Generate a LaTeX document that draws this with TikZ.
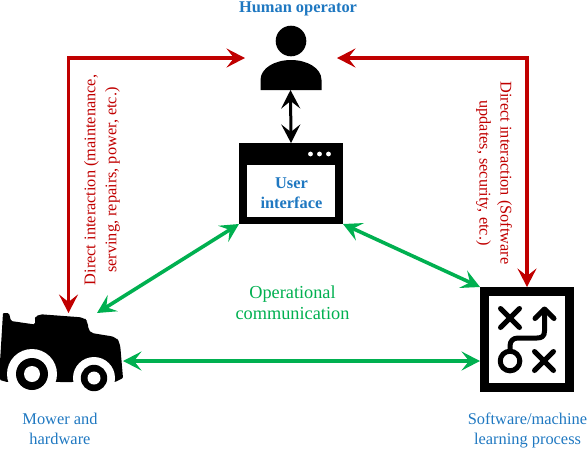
\documentclass[tikz,border=0pt]{standalone}
\usepackage{fontspec}
\setmainfont{Liberation Serif}
\usetikzlibrary{arrows.meta,calc}
\definecolor{myred}{HTML}{C00000}
\definecolor{mygreen}{HTML}{00B050}
\definecolor{myblue}{HTML}{1F78C1}
\tikzset{
  anchorbox/.style={draw=none,fill=none,inner sep=0pt,outer sep=0pt,minimum width=#1},
  redline/.style={draw=myred,line width=3.8pt,line join=miter},
  greenline/.style={draw=mygreen,line width=3.6pt},
  blackline/.style={draw=black,line width=3pt},
  bothtip/.style={{Stealth[length=18.5pt,width=19pt,inset=7.5pt]}-{Stealth[length=18.5pt,width=19pt,inset=7.5pt]}},
  captionb/.style={text=myblue,font=\fontsize{16.4}{20}\selectfont,align=center},
  captionbb/.style={text=myblue,font=\fontsize{16.4}{20}\selectfont\bfseries,align=center},
  redlabel/.style={text=myred,font=\fontsize{16.3}{21}\selectfont,align=center},
  greenlabel/.style={text=mygreen,font=\fontsize{18.3}{21}\selectfont,align=center},
}
\begin{document}
\begin{tikzpicture}[x=1pt,y=-1pt]
\useasboundingbox (0,0) rectangle (588,448);
% anchors for the icons
\node[anchorbox=61pt,minimum height=64pt] (person) at (290.5,58) {};
\node[anchorbox=104pt,minimum height=81pt] (window) at (291,183.5) {};
\node[anchorbox=123pt,minimum height=73pt] (mower) at (61.5,349.5) {};
\node[anchorbox=94pt,minimum height=105pt] (soft) at (527,339.5) {};
\coordinate (elbowL) at (68.5,58);
\coordinate (elbowR) at (527,58);
% person
\fill (291,41) circle[radius=15.3];
\fill (260.5,90) -- (260.5,80) .. controls (260.5,68) and (275,60) .. (291,60)
  .. controls (307,60) and (321.5,68) .. (321.5,80) -- (321.5,90) -- cycle;
% window
\fill (239,143) rectangle (343,224);
\fill[white] (247,164.5) rectangle (335,217);
\fill[white] (310.5,154) circle[radius=2.4] (319.5,154) circle[radius=2.4] (328.5,154) circle[radius=2.4];
% mower
\fill[rounded corners=1.5pt] (3,313) -- (9,313) -- (11,321) -- (35,324.5) -- (35,318)
  [rounded corners=5pt] -- (37,314) -- (84,317.5) -- (88,322) -- (88.5,332.5)
  -- (116,337) -- (120,343)
  [rounded corners=1pt] -- (123,378) -- (115,382) -- (7,382) -- (0,380) -- (0,362) -- cycle;
\fill[white] (32,374) circle[radius=25] (94,378) circle[radius=21];
\fill[white] (5,382) rectangle (60,392) (72,382) rectangle (117,392);
\fill (32,374) circle[radius=16];
\fill[white] (32,374) circle[radius=8];
\fill (94,378) circle[radius=13.2];
\fill[white] (94,378) circle[radius=6.5];
% software icon
\draw[line width=8.6pt] (484.3,291.3) rectangle (569.7,387.7);
\begin{scope}[line width=5pt,line cap=round,line join=round]
\draw (500.5,308.5) -- (519.5,327.5) (519.5,308.5) -- (500.5,327.5);
\draw (534.5,351.5) -- (553.5,370.5) (553.5,351.5) -- (534.5,370.5);
\draw (510,361) circle[radius=9.8];
\draw (510,351) -- (510,346) .. controls (510,341) and (513,338) .. (518,338)
  -- (537,338) .. controls (542,338) and (544.5,336) .. (544.5,331) -- (544.5,310);
\draw (535,318.5) -- (544.5,309) -- (554,318.5);
\end{scope}
% connectors
\draw[redline,bothtip] ([xshift=-15pt]person.west) -- (elbowL) -- ([xshift=7pt]mower.north);
\draw[redline,bothtip] ([xshift=16pt]person.east) -- (elbowR) -- (soft.north);
\draw[blackline,bothtip] (person.south) -- (window.north);
\draw[greenline,bothtip] (window.south west) -- ([xshift=-26pt]mower.north east);
\draw[greenline,bothtip] (window.south east) -- (soft.north west);
\draw[greenline,bothtip] ([yshift=-11.5pt]mower.east) -- ([yshift=-21.5pt]soft.west);
% labels
\node[captionbb] (lhuman) at (298,8.5) {Human operator};
\node[captionbb] (lui) at (291.5,193.5) {User\\interface};
\node[captionb] (lmower) at (60,429) {Mower and\\hardware};
\node[captionb] (lsoft) at (527.5,430) {Software/machine\\learning process};
\node[greenlabel] (lop) at (292.5,303) {Operational\\communication};
\node[redlabel,rotate=90] (lleft) at (102,180) {Direct interaction (maintenance,\\serving, repairs, power, etc.)};
\node[redlabel,rotate=-90] (lright) at (494,173) {Direct interaction (Software\\updates, security, etc.)};
\end{tikzpicture}
\end{document}
